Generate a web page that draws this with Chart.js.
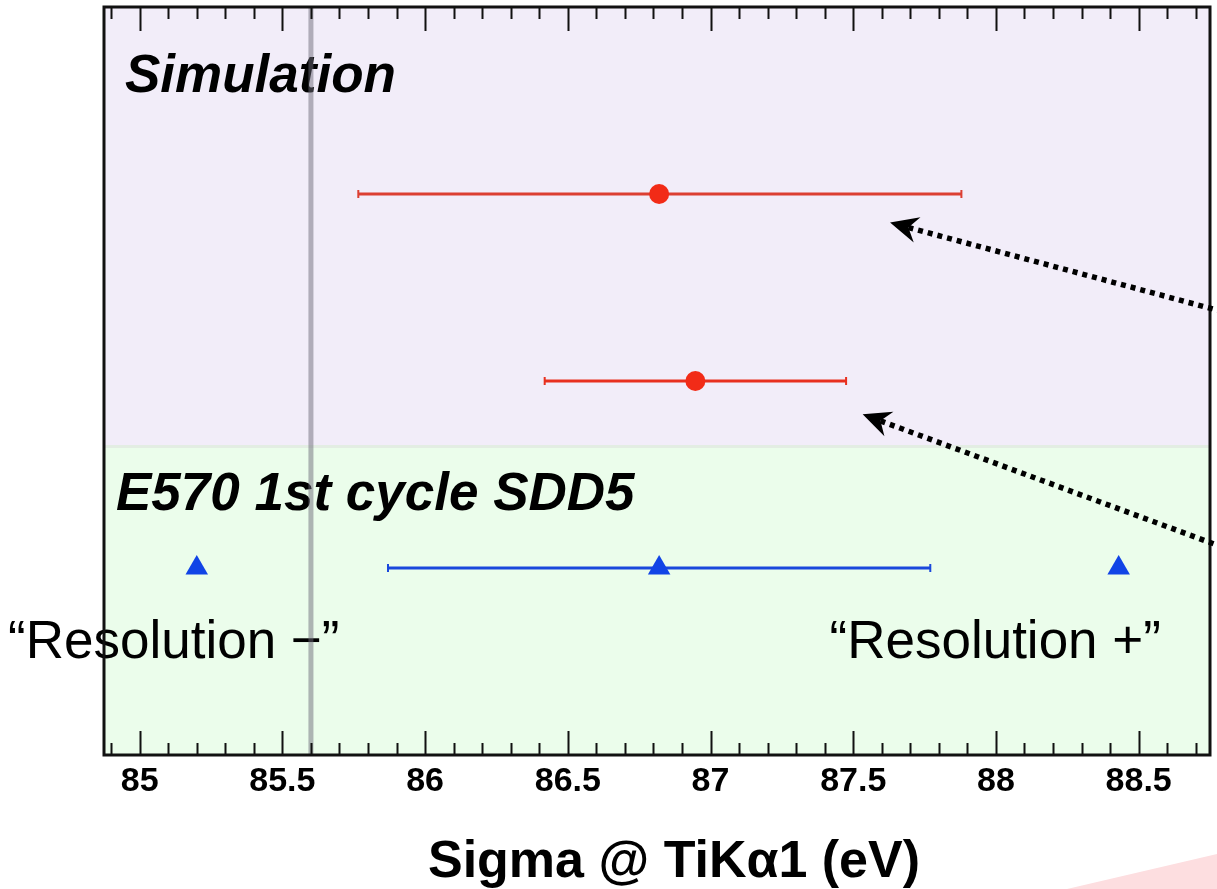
<!DOCTYPE html>
<html><head><meta charset="utf-8">
<script src="https://cdn.jsdelivr.net/npm/chart.js@4/dist/chart.umd.min.js"></script>
<style>html,body{margin:0;padding:0;background:#fff;overflow:hidden}</style>
</head><body>
<canvas id="c" width="1217" height="889"></canvas>
<script>
// ---- data ----
const simRows  = [3, 2];
const simSigma = [86.82, 86.947];
const simLow   = [85.766, 86.419];
const simHigh  = [87.879, 87.475];
const simBarColors = ['#dc3f33', '#e8301f'];
const expRows  = [1, 1, 1];
const expSigma = [85.2, 86.82, 88.43];
const expLow   = [null, 85.87, null];
const expHigh  = [null, 87.77, null];
const xTicks = [85, 85.5, 86, 86.5, 87, 87.5, 88, 88.5];
const xTickLabels = ['85', '85.5', '86', '86.5', '87', '87.5', '88', '88.5'];
const xRange = [84.875, 88.75];
const yRange = [0, 4];
const minorStep = 0.1;
const referenceLine = 85.6;
const regionSplit = 1.65;
const xTitle = 'Sigma @ TiKα1 (eV)';
const regionLabels = ['Simulation', 'E570 1st cycle SDD5'];
const regionLabelPos = [[84.9485, 3.548], [84.917, 1.310]];
const sideLabels = ['\u201CResolution \u2212\u201D', '\u201CResolution +\u201D'];
const sideLabelPos = [[84.539, 0.519, 'left'], [88.578, 0.519, 'right']];
const arrowTips  = [[87.629, 2.847], [87.533, 1.822]];
const arrowTails = [[88.9, 2.328], [88.9, 1.052]];

const FONT = "'Liberation Sans', Arial, Helvetica, sans-serif";

const decor = {
  id: 'decor',
  beforeDraw(chart) {
    const {ctx, chartArea: a, scales: {y}} = chart;
    ctx.save();
    ctx.fillStyle = '#ffffff';
    ctx.fillRect(0, 0, chart.width, chart.height);
    // pink corner shape
    ctx.fillStyle = 'rgb(253,222,224)';
    ctx.beginPath();
    ctx.moveTo(chart.width - 150, chart.height);
    ctx.lineTo(chart.width, chart.height - 35);
    ctx.lineTo(chart.width, chart.height);
    ctx.closePath(); ctx.fill();
    const ySplit = y.getPixelForValue(regionSplit);
    ctx.fillStyle = '#f2edf9';
    ctx.fillRect(a.left, a.top, a.right - a.left, ySplit - a.top);
    ctx.fillStyle = '#ebfdeb';
    ctx.fillRect(a.left, ySplit, a.right - a.left, a.bottom - ySplit);
    ctx.strokeStyle = '#e3ede3';
    ctx.lineWidth = 3;
    ctx.beginPath(); ctx.moveTo(a.left, ySplit); ctx.lineTo(a.right, ySplit); ctx.stroke();
    ctx.restore();
  },
  beforeDatasetsDraw(chart) {
    const {ctx, scales: {x, y}} = chart;
    ctx.save();
    const bar = (lo, hi, row, color) => {
      const x0 = x.getPixelForValue(lo), x1 = x.getPixelForValue(hi), py = y.getPixelForValue(row);
      ctx.strokeStyle = color;
      ctx.lineWidth = 3;
      ctx.beginPath();
      ctx.moveTo(x0, py); ctx.lineTo(x1, py);
      ctx.stroke();
      ctx.lineWidth = 2;
      ctx.beginPath();
      ctx.moveTo(x0, py - 4); ctx.lineTo(x0, py + 4);
      ctx.moveTo(x1, py - 4); ctx.lineTo(x1, py + 4);
      ctx.stroke();
    };
    simSigma.forEach((v, i) => bar(simLow[i], simHigh[i], simRows[i], simBarColors[i]));
    expSigma.forEach((v, i) => { if (expLow[i] !== null) bar(expLow[i], expHigh[i], expRows[i], '#1a48dc'); });
    ctx.restore();
  },
  afterDatasetsDraw(chart) {
    const {ctx, chartArea: a, scales: {x, y}} = chart;
    ctx.save();
    ctx.fillStyle = '#000';
    ctx.textBaseline = 'alphabetic';
    // region labels
    ctx.font = `italic bold 53px ${FONT}`;
    ctx.textAlign = 'left';
    regionLabels.forEach((t, i) => {
      ctx.fillText(t, x.getPixelForValue(regionLabelPos[i][0]), y.getPixelForValue(regionLabelPos[i][1]));
    });
    // side labels
    ctx.font = `53px ${FONT}`;
    sideLabels.forEach((t, i) => {
      ctx.textAlign = sideLabelPos[i][2];
      ctx.fillText(t, x.getPixelForValue(sideLabelPos[i][0]), y.getPixelForValue(sideLabelPos[i][1]));
    });
    // reference line
    const rx = x.getPixelForValue(referenceLine);
    ctx.strokeStyle = 'rgba(110,108,122,0.5)';
    ctx.lineWidth = 5;
    ctx.beginPath(); ctx.moveTo(rx, a.top); ctx.lineTo(rx, a.bottom); ctx.stroke();
    // frame
    ctx.strokeStyle = '#111';
    ctx.lineWidth = 3;
    ctx.strokeRect(a.left, a.top, a.right - a.left, a.bottom - a.top);
    // ticks inside top & bottom
    ctx.lineWidth = 2;
    ctx.beginPath();
    const k0 = Math.ceil(xRange[0] / minorStep - 1e-9), k1 = Math.floor(xRange[1] / minorStep + 1e-9);
    for (let k = k0; k <= k1; k++) {
      const v = k * minorStep;
      const major = xTicks.some(t => Math.abs(t - v) < 1e-6);
      const len = major ? 24 : 12;
      const px = Math.round(x.getPixelForValue(v)) + 0.5;
      if (px <= a.left + 2 || px >= a.right - 2) continue;
      ctx.moveTo(px, a.top); ctx.lineTo(px, a.top + len);
      ctx.moveTo(px, a.bottom); ctx.lineTo(px, a.bottom - len);
    }
    ctx.stroke();
    // arrows
    arrowTips.forEach((tip, i) => {
      const tx = x.getPixelForValue(tip[0]), ty = y.getPixelForValue(tip[1]);
      const ex = x.getPixelForValue(arrowTails[i][0]), ey = y.getPixelForValue(arrowTails[i][1]);
      const L = Math.hypot(ex - tx, ey - ty);
      const ux = (ex - tx) / L, uy = (ey - ty) / L, nx = -uy, ny = ux;
      const HL = 28, HW = 13, notch = 19;
      ctx.fillStyle = '#000';
      ctx.beginPath();
      ctx.moveTo(tx, ty);
      ctx.lineTo(tx + HL * ux + HW * nx, ty + HL * uy + HW * ny);
      ctx.lineTo(tx + notch * ux, ty + notch * uy);
      ctx.lineTo(tx + HL * ux - HW * nx, ty + HL * uy - HW * ny);
      ctx.closePath(); ctx.fill();
      ctx.strokeStyle = '#000';
      ctx.lineWidth = 5.5;
      ctx.lineCap = 'butt';
      ctx.setLineDash([5, 5]);
      ctx.beginPath();
      ctx.moveTo(tx + notch * ux, ty + notch * uy);
      ctx.lineTo(ex, ey);
      ctx.stroke();
      ctx.setLineDash([]);
    });
    // axis title
    ctx.fillStyle = '#000';
    ctx.font = `bold 52px ${FONT}`;
    ctx.textAlign = 'center';
    ctx.fillText(xTitle, (a.left + a.right) / 2 + 17, chart.height - 12);
    ctx.restore();
  }
};

new Chart(document.getElementById('c'), {
  type: 'scatter',
  data: {
    datasets: [
      {
        label: 'Simulation',
        data: simSigma.map((v, i) => ({x: v, y: simRows[i]})),
        pointStyle: 'circle', pointRadius: 10, pointHoverRadius: 10,
        backgroundColor: '#f22b17', borderWidth: 0
      },
      {
        label: 'E570 1st cycle SDD5',
        data: expSigma.map((v, i) => ({x: v, y: expRows[i]})),
        pointStyle: 'triangle', pointRadius: 13, pointHoverRadius: 13,
        backgroundColor: '#1144e6', borderWidth: 0
      }
    ]
  },
  options: {
    responsive: false,
    animation: false,
    devicePixelRatio: 1,
    layout: {autoPadding: false, padding: {left: 104, right: 7, top: 7, bottom: 0}},
    plugins: {legend: {display: false}, tooltip: {enabled: false}},
    scales: {
      x: {
        type: 'linear', position: 'bottom', min: xRange[0], max: xRange[1],
        afterBuildTicks: s => { s.ticks = xTicks.map(v => ({value: v})); },
        afterFit: s => { s.height = 134; s.paddingLeft = 0; s.paddingRight = 0; },
        grid: {display: false, drawTicks: false},
        border: {display: false},
        ticks: {
          autoSkip: false, maxRotation: 0, padding: 6, color: '#000',
          font: {family: FONT, weight: 'bold', size: 34},
          callback: v => xTickLabels[xTicks.findIndex(t => Math.abs(t - v) < 1e-9)]
        },
        title: {display: false}
      },
      y: {type: 'linear', display: false, min: yRange[0], max: yRange[1]}
    }
  },
  plugins: [decor]
});
</script>
</body></html>
